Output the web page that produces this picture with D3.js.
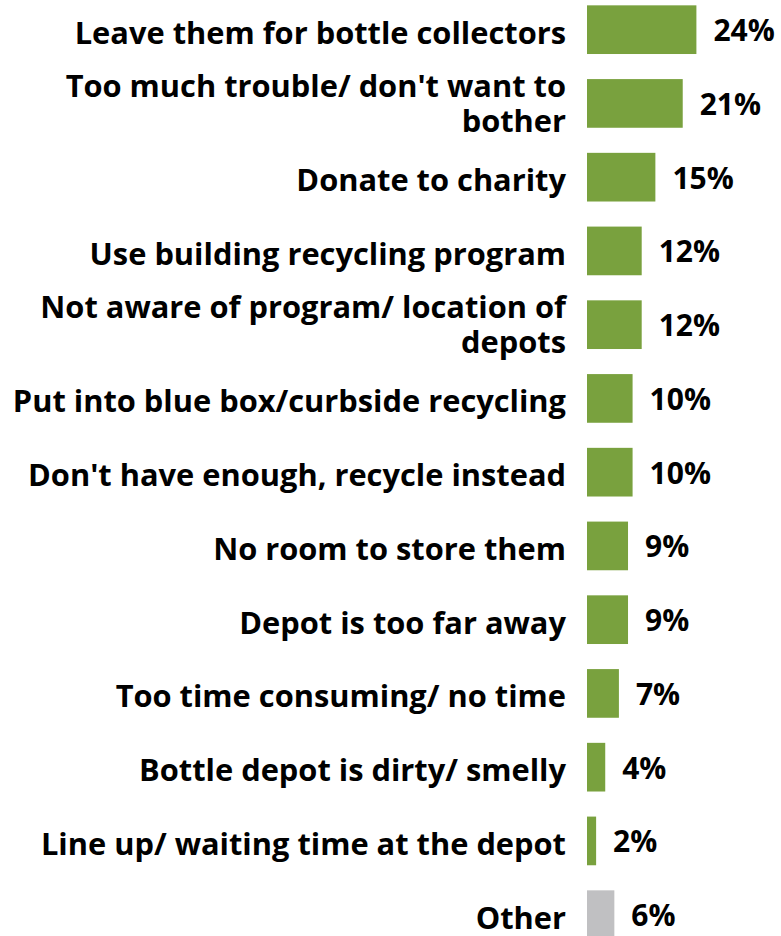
<!DOCTYPE html>
<html>
<head>
<meta charset="utf-8">
<script src="https://cdn.jsdelivr.net/npm/d3@7"></script>
<style>
  html, body { margin: 0; padding: 0; background: #fff; }
  svg { display: block; }
  text { font-family: "Open Sans", Lato, sans-serif; font-weight: 700; fill: #000; }
</style>
</head>
<body>
<svg id="chart" width="781" height="936"></svg>
<script>
// Reasons for not returning containers to the depot (share of respondents, %)
const categories = [
  "Leave them for bottle collectors",
  "Too much trouble/ don't want to\nbother",
  "Donate to charity",
  "Use building recycling program",
  "Not aware of program/ location of\ndepots",
  "Put into blue box/curbside recycling",
  "Don't have enough, recycle instead",
  "No room to store them",
  "Depot is too far away",
  "Too time consuming/ no time",
  "Bottle depot is dirty/ smelly",
  "Line up/ waiting time at the depot",
  "Other"
];
const values = [24, 21, 15, 12, 12, 10, 10, 9, 9, 7, 4, 2, 6];
const valueLabels = ["24%", "21%", "15%", "12%", "12%", "10%", "10%", "9%", "9%", "7%", "4%", "2%", "6%"];

const svg = d3.select("#chart");
const green = "#79a13e", grey = "#c0c0c2";
const labelSize = 30.8, valueSize = 30;

const y = d3.scaleBand()
  .domain(categories)
  .range([-7.2, 951.55])
  .paddingInner(0.34)
  .paddingOuter(0.17);

const x = d3.scaleLinear().domain([0, 24]).range([587, 696.4]);

const rows = svg.append("g").selectAll("g")
  .data(categories.map((c, i) => ({ c, v: values[i], t: valueLabels[i], other: c === "Other" })))
  .join("g");

// bars
rows.append("rect")
  .attr("x", x(0))
  .attr("y", d => y(d.c))
  .attr("width", d => x(d.v) - x(0))
  .attr("height", y.bandwidth())
  .attr("fill", d => d.other ? grey : green);

// value labels to the right of each bar
rows.append("text")
  .attr("x", d => x(d.v) + 17)
  .attr("y", d => y(d.c) + y.bandwidth() / 2 + 11.5)
  .attr("font-size", valueSize)
  .text(d => d.t);

// category labels, right-aligned, wrapped on explicit breaks
const lineH = 35.4;
rows.append("text")
  .attr("text-anchor", "end")
  .attr("font-size", labelSize)
  .each(function (d) {
    const lines = d.c.split("\n");
    const mid = y(d.c) + y.bandwidth() / 2;
    const first = lines.length > 1
      ? mid + 11 - (lines.length - 1) * lineH / 2
      : mid + 14;
    d3.select(this).selectAll("tspan")
      .data(lines)
      .join("tspan")
      .attr("x", 566)
      .attr("y", (l, i) => first + i * lineH)
      .text(l => l);
  });
</script>
</body>
</html>
